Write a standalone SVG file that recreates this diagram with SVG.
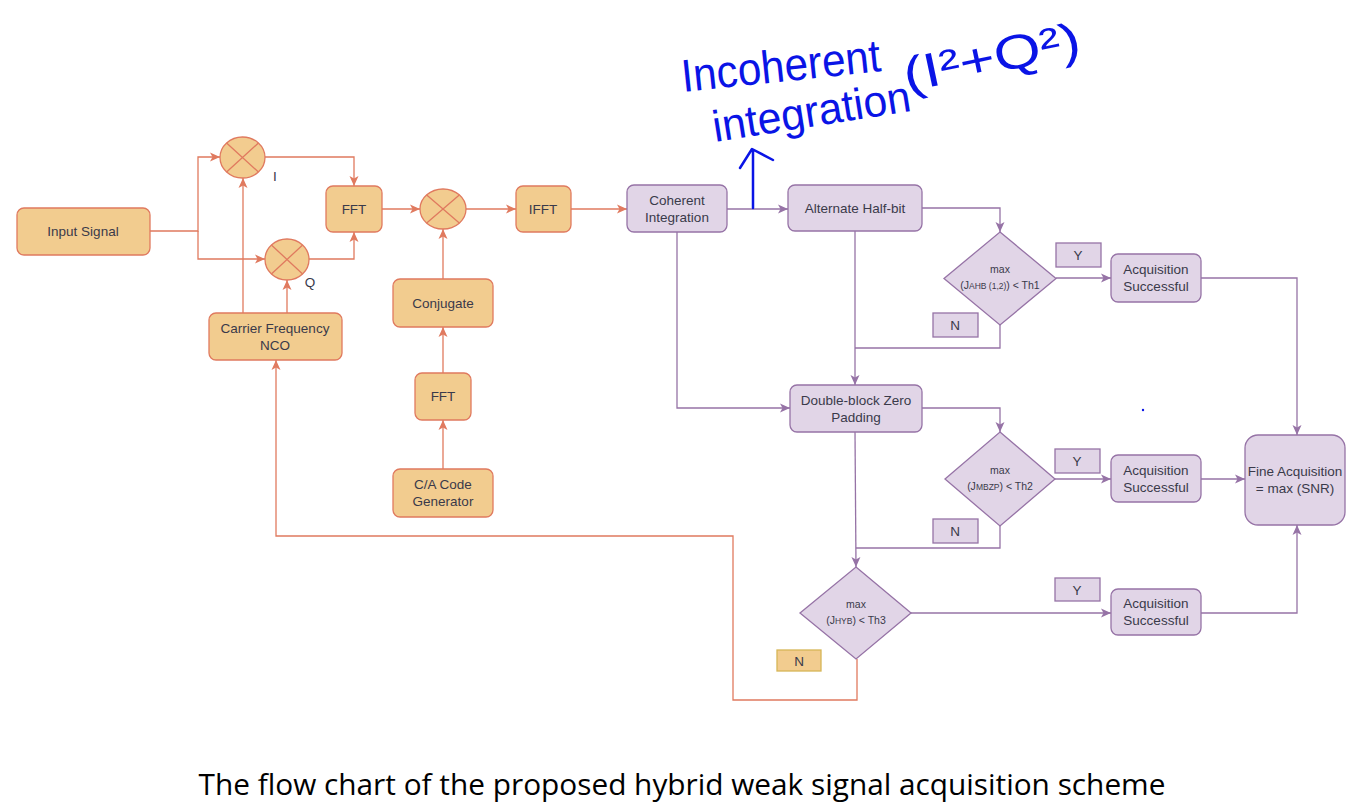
<svg xmlns="http://www.w3.org/2000/svg" width="1352" height="812" viewBox="0 0 1352 812">
<style>
.o{fill:#F2CC8F;stroke:#E07A5F;stroke-width:1.3}
.p{fill:#E1D5E7;stroke:#9673A6;stroke-width:1.3}
.t{font-family:"Liberation Sans",Arial,sans-serif;font-size:13.5px;fill:#3A3A4A;text-anchor:middle}
.s{font-family:"Liberation Sans",Arial,sans-serif;font-size:10.5px;fill:#3A3A4A;text-anchor:middle}
.lo{fill:none;stroke:#E07A5F;stroke-width:1.3}
.lp{fill:none;stroke:#9673A6;stroke-width:1.3}
.hw{font-family:"Liberation Sans",Arial,sans-serif;fill:#0a14e6;font-weight:normal}
</style>
<defs>
<marker id="ao" markerWidth="10" markerHeight="10" refX="10" refY="5" orient="auto" markerUnits="userSpaceOnUse"><path d="M0,0.5 L10,5 L0,9.5 L2.5,5 z" fill="#E07A5F"/></marker>
<marker id="ap" markerWidth="10" markerHeight="10" refX="10" refY="5" orient="auto" markerUnits="userSpaceOnUse"><path d="M0,0.5 L10,5 L0,9.5 L2.5,5 z" fill="#9673A6"/></marker>
</defs>
<rect width="1352" height="812" fill="#fff"/>
<g id="connectors">
<path class="lo" d="M150,231 H198 V157 H220" marker-end="url(#ao)"/>
<path class="lo" d="M198,231 V259 H265" marker-end="url(#ao)"/>
<path class="lo" d="M243,313 V178" marker-end="url(#ao)"/>
<path class="lo" d="M287,313 V280" marker-end="url(#ao)"/>
<path class="lo" d="M265,157 H354 V186" marker-end="url(#ao)"/>
<path class="lo" d="M309,259 H354 V232" marker-end="url(#ao)"/>
<path class="lo" d="M382,209 H420" marker-end="url(#ao)"/>
<path class="lo" d="M466,209 H516" marker-end="url(#ao)"/>
<path class="lo" d="M571,209 H627" marker-end="url(#ao)"/>
<path class="lo" d="M443,279 V229" marker-end="url(#ao)"/>
<path class="lo" d="M443,373 V327" marker-end="url(#ao)"/>
<path class="lo" d="M443,469 V420" marker-end="url(#ao)"/>
<path class="lp" d="M727,209 H788" marker-end="url(#ap)"/>
<path class="lp" d="M922,208 H1000 V232" marker-end="url(#ap)"/>
<path class="lp" d="M1056,278 H1111" marker-end="url(#ap)"/>
<path class="lp" d="M1000,325 V348 H855"/>
<path class="lp" d="M855,231 V385" marker-end="url(#ap)"/>
<path class="lp" d="M677,232 V408 H790" marker-end="url(#ap)"/>
<path class="lp" d="M922,408 H1000 V432" marker-end="url(#ap)"/>
<path class="lp" d="M1055,479 H1111" marker-end="url(#ap)"/>
<path class="lp" d="M1000,526 V548 H856"/>
<path class="lp" d="M855,432 L856,567" marker-end="url(#ap)"/>
<path class="lp" d="M911,613 H1111" marker-end="url(#ap)"/>
<path class="lp" d="M1201,278 H1297 V435" marker-end="url(#ap)"/>
<path class="lp" d="M1200,479 H1245" marker-end="url(#ap)"/>
<path class="lp" d="M1200,613 H1297 V525" marker-end="url(#ap)"/>
<path class="lo" d="M857,659 V700 H733 V536 H276 V360" marker-end="url(#ao)"/>
</g>
<g id="input"><rect class="o" x="17" y="208" width="133" height="47" rx="7"/><text class="t" x="83" y="236">Input Signal</text></g>
<g id="mixI"><ellipse class="o" cx="242.5" cy="157.5" rx="22.5" ry="20.5"/><path class="lo" d="M226.6,143 L258.4,172 M258.4,143 L226.6,172"/></g>
<text class="t" x="275" y="181">I</text>
<g id="mixQ"><ellipse class="o" cx="287" cy="259.5" rx="22" ry="20.5"/><path class="lo" d="M271.4,245 L302.6,274 M302.6,245 L271.4,274"/></g>
<text class="t" x="310" y="287">Q</text>
<g id="nco"><rect class="o" x="209" y="313" width="133" height="47" rx="7"/><text class="t" x="275" y="333">Carrier Frequency</text><text class="t" x="275" y="350">NCO</text></g>
<g id="fft1"><rect class="o" x="326" y="186" width="56" height="46" rx="7"/><text class="t" x="354" y="214">FFT</text></g>
<g id="mix3"><ellipse class="o" cx="443" cy="209" rx="23" ry="20"/><path class="lo" d="M426.7,195 L459.3,223 M459.3,195 L426.7,223"/></g>
<g id="ifft"><rect class="o" x="516" y="186" width="55" height="46" rx="7"/><text class="t" x="543" y="214">IFFT</text></g>
<g id="conj"><rect class="o" x="393" y="279" width="100" height="48" rx="7"/><text class="t" x="443" y="308">Conjugate</text></g>
<g id="fft2"><rect class="o" x="415" y="373" width="56" height="47" rx="7"/><text class="t" x="443" y="401">FFT</text></g>
<g id="ca"><rect class="o" x="393" y="469" width="100" height="48" rx="7"/><text class="t" x="443" y="489">C/A Code</text><text class="t" x="443" y="506">Generator</text></g>
<g id="coh"><rect class="p" x="627" y="185" width="100" height="47" rx="7"/><text class="t" x="677" y="205">Coherent</text><text class="t" x="677" y="222">Integration</text></g>
<g id="ahb"><rect class="p" x="788" y="185" width="134" height="46" rx="7"/><text class="t" x="855" y="213">Alternate Half-bit</text></g>
<g id="d1"><path class="p" d="M1000,232 L1056,278.5 L1000,325 L944,278.5 z"/><text class="s" x="1000" y="273">max</text><text class="s" x="1000" y="289">(J<tspan font-size="8.5">AHB (1,2)</tspan>) &lt; Th1</text></g>
<g id="y1"><rect class="p" x="1056" y="243" width="45" height="24"/><text class="t" x="1078" y="260">Y</text></g>
<g id="n1"><rect class="p" x="933" y="313" width="45" height="24"/><text class="t" x="955" y="330">N</text></g>
<g id="acq1"><rect class="p" x="1111" y="254" width="90" height="48" rx="7"/><text class="t" x="1156" y="274">Acquisition</text><text class="t" x="1156" y="291">Successful</text></g>
<g id="dbzp"><rect class="p" x="790" y="385" width="132" height="47" rx="7"/><text class="t" x="856" y="405">Double-block Zero</text><text class="t" x="856" y="422">Padding</text></g>
<g id="d2"><path class="p" d="M1000,432 L1055,479 L1000,526 L945,479 z"/><text class="s" x="1000" y="474">max</text><text class="s" x="1000" y="490">(J<tspan font-size="8.5">MBZP</tspan>) &lt; Th2</text></g>
<g id="y2"><rect class="p" x="1055" y="449" width="45" height="24"/><text class="t" x="1077" y="466">Y</text></g>
<g id="n2"><rect class="p" x="933" y="519" width="45" height="24"/><text class="t" x="955" y="536">N</text></g>
<g id="acq2"><rect class="p" x="1111" y="455" width="90" height="47" rx="7"/><text class="t" x="1156" y="475">Acquisition</text><text class="t" x="1156" y="492">Successful</text></g>
<g id="d3"><path class="p" d="M856,567 L911,613 L856,659 L800,613 z"/><text class="s" x="856" y="608">max</text><text class="s" x="856" y="624">(J<tspan font-size="8.5">HYB</tspan>) &lt; Th3</text></g>
<g id="y3"><rect class="p" x="1055" y="578" width="45" height="23"/><text class="t" x="1077" y="595">Y</text></g>
<g id="n3"><rect x="777" y="650" width="44" height="21" fill="#F2CC8F" stroke="#D6B656" stroke-width="1.3"/><text class="t" x="799" y="666">N</text></g>
<g id="acq3"><rect class="p" x="1111" y="589" width="90" height="46" rx="7"/><text class="t" x="1156" y="608">Acquisition</text><text class="t" x="1156" y="625">Successful</text></g>
<g id="fine"><rect class="p" x="1245" y="435" width="100" height="90" rx="13"/><text class="t" x="1295" y="476">Fine Acquisition</text><text class="t" x="1295" y="493">= max (SNR)</text></g>
<g id="annotation">
<text class="hw" font-size="46" x="683" y="92" transform="rotate(-6 683 92)" textLength="200" lengthAdjust="spacingAndGlyphs">Incoherent</text>
<text class="hw" font-size="44" x="715" y="142" transform="rotate(-9 715 142)" textLength="200" lengthAdjust="spacingAndGlyphs">integration</text>
<text class="hw" font-size="48" x="907" y="92" transform="rotate(-12 907 92)" textLength="180" lengthAdjust="spacingAndGlyphs">(I²+Q²)</text>
<path d="M753,208 V150 M740,168 L752,149 L773,160" fill="none" stroke="#0a14e6" stroke-width="2.5" stroke-linecap="round" stroke-linejoin="round"/>
<circle cx="1143" cy="410" r="1.2" fill="#0a14e6"/>
</g>
<text x="682" y="795" font-family="Open Sans, Liberation Sans, sans-serif" font-size="29.8" fill="#000" text-anchor="middle">The flow chart of the proposed hybrid weak signal acquisition scheme</text>
</svg>
